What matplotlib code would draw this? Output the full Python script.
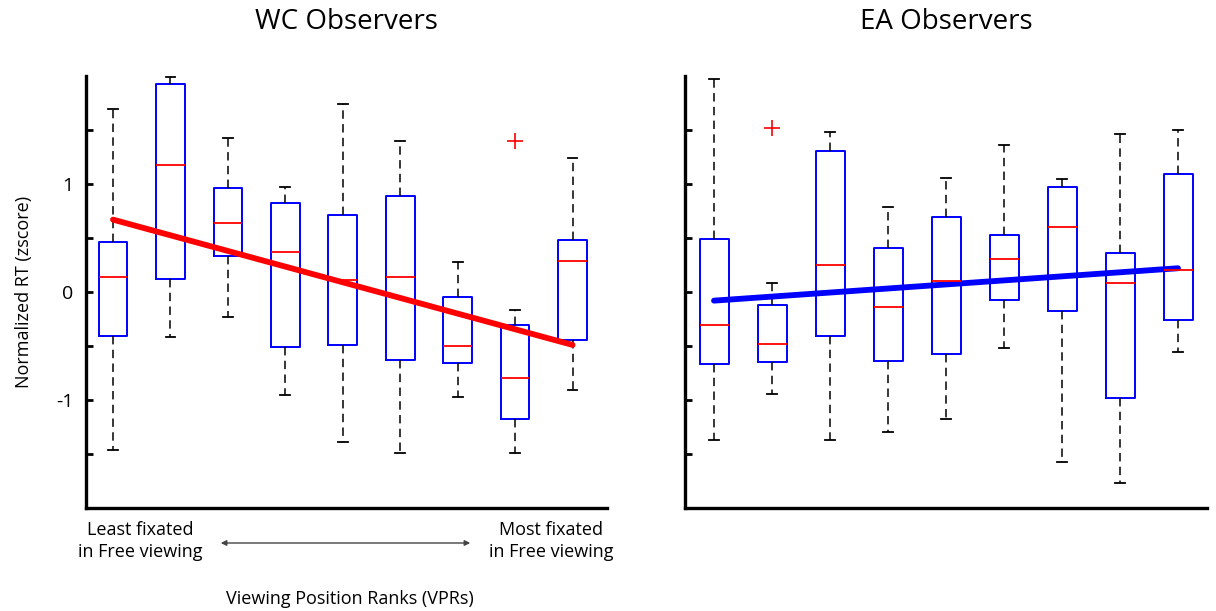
import matplotlib
matplotlib.use('Agg')
import matplotlib.pyplot as plt
import numpy as np

plt.rcParams['font.family'] = ['Open Sans', 'DejaVu Sans']

RANKS = np.arange(1, 10)
YTICKS = [-1.5, -1.0, -0.5, 0.0, 0.5, 1.0, 1.5]
YTICKLABELS = ['', '-1', '', '0', '', '1', '']

# WC observers: per-rank box statistics of normalized RT
WC_WHISHI = [1.69, 1.99, 1.43, 0.97, 1.74, 1.40, 0.28, -0.17, 1.24]
WC_Q3 = [0.46, 1.93, 0.96, 0.82, 0.71, 0.89, -0.05, -0.31, 0.48]
WC_MED = [0.14, 1.18, 0.64, 0.37, 0.11, 0.14, -0.50, -0.80, 0.29]
WC_Q1 = [-0.41, 0.12, 0.33, -0.51, -0.49, -0.63, -0.66, -1.18, -0.44]
WC_WHISLO = [-1.46, -0.42, -0.23, -0.95, -1.39, -1.49, -0.97, -1.49, -0.91]
WC_FLIERS = [[], [], [], [], [], [], [], [1.40], []]
WC_FIT = [0.67, -0.49]  # linear fit evaluated at rank 1 and rank 9

# EA observers
EA_WHISHI = [1.97, 0.08, 1.48, 0.79, 1.06, 1.36, 1.05, 1.46, 1.50]
EA_Q3 = [0.49, -0.12, 1.31, 0.41, 0.69, 0.53, 0.97, 0.36, 1.09]
EA_MED = [-0.31, -0.48, 0.25, -0.14, 0.10, 0.31, 0.60, 0.08, 0.20]
EA_Q1 = [-0.67, -0.65, -0.41, -0.64, -0.57, -0.07, -0.18, -0.98, -0.26]
EA_WHISLO = [-1.37, -0.94, -1.37, -1.30, -1.18, -0.52, -1.57, -1.77, -0.56]
EA_FLIERS = [[], [1.52], [], [], [], [], [], [], []]
EA_FIT = [-0.08, 0.22]


def draw_panel(ax, whishi, q3, med, q1, whislo, fliers, fit, fit_color, title):
    stats = [dict(med=m, q1=lo_q, q3=hi_q, whislo=lo, whishi=hi, fliers=f)
             for hi, hi_q, m, lo_q, lo, f in zip(whishi, q3, med, q1, whislo, fliers)]
    ax.bxp(stats, positions=RANKS, widths=0.5, capwidths=0.17,
           boxprops=dict(color='blue', linewidth=1.4),
           medianprops=dict(color='red', linewidth=1.3),
           whiskerprops=dict(color='black', linewidth=1.1, linestyle=(0, (5.5, 3.5))),
           capprops=dict(color='black', linewidth=1.3),
           flierprops=dict(marker='+', markeredgecolor='red', markersize=12,
                           markeredgewidth=1.2))
    ax.plot([RANKS[0], RANKS[-1]], fit, color=fit_color, linewidth=4.2,
            solid_capstyle='round')
    ax.set_ylim(-2, 2)
    ax.set_yticks(YTICKS)
    ax.set_xticks([])
    for side in ('top', 'right'):
        ax.spines[side].set_visible(False)
    for side in ('left', 'bottom'):
        ax.spines[side].set_linewidth(2.4)
    ax.tick_params(axis='y', direction='in', length=5, width=2, pad=9,
                   labelsize=14)
    ax.set_title(title, fontsize=20, pad=34)


fig = plt.figure(figsize=(12.16, 6.11), dpi=100)
ax_wc = fig.add_axes([86 / 1216, 103 / 611, 521 / 1216, 432 / 611])
ax_ea = fig.add_axes([685 / 1216, 103 / 611, 522 / 1216, 432 / 611])

draw_panel(ax_wc, WC_WHISHI, WC_Q3, WC_MED, WC_Q1, WC_WHISLO, WC_FLIERS,
           WC_FIT, 'red', 'WC Observers')
ax_wc.set_xlim(0.53, 9.6)
ax_wc.set_yticklabels(YTICKLABELS)
ax_wc.set_ylabel('Normalized RT (zscore)', fontsize=13, labelpad=17)

draw_panel(ax_ea, EA_WHISHI, EA_Q3, EA_MED, EA_Q1, EA_WHISLO, EA_FLIERS,
           EA_FIT, 'blue', 'EA Observers')
ax_ea.set_xlim(0.5, 9.5)
ax_ea.set_yticklabels([])

# rank direction annotation under the WC panel
fig.text(140 / 1216, 1 - 541 / 611, 'Least fixated\nin Free viewing',
         ha='center', va='center', fontsize=13, linespacing=1.3)
fig.text(551 / 1216, 1 - 541 / 611, 'Most fixated\nin Free viewing',
         ha='center', va='center', fontsize=13, linespacing=1.3)
fig.add_artist(matplotlib.patches.FancyArrowPatch(
    (218 / 1216, 1 - 543 / 611), (473 / 1216, 1 - 543 / 611),
    transform=fig.transFigure, arrowstyle='<|-|>', mutation_scale=8,
    color='#444444', linewidth=1))
fig.text(350 / 1216, 1 - 599 / 611, 'Viewing Position Ranks (VPRs)',
         ha='center', va='center', fontsize=13)

fig.savefig('out.png', dpi=100)
